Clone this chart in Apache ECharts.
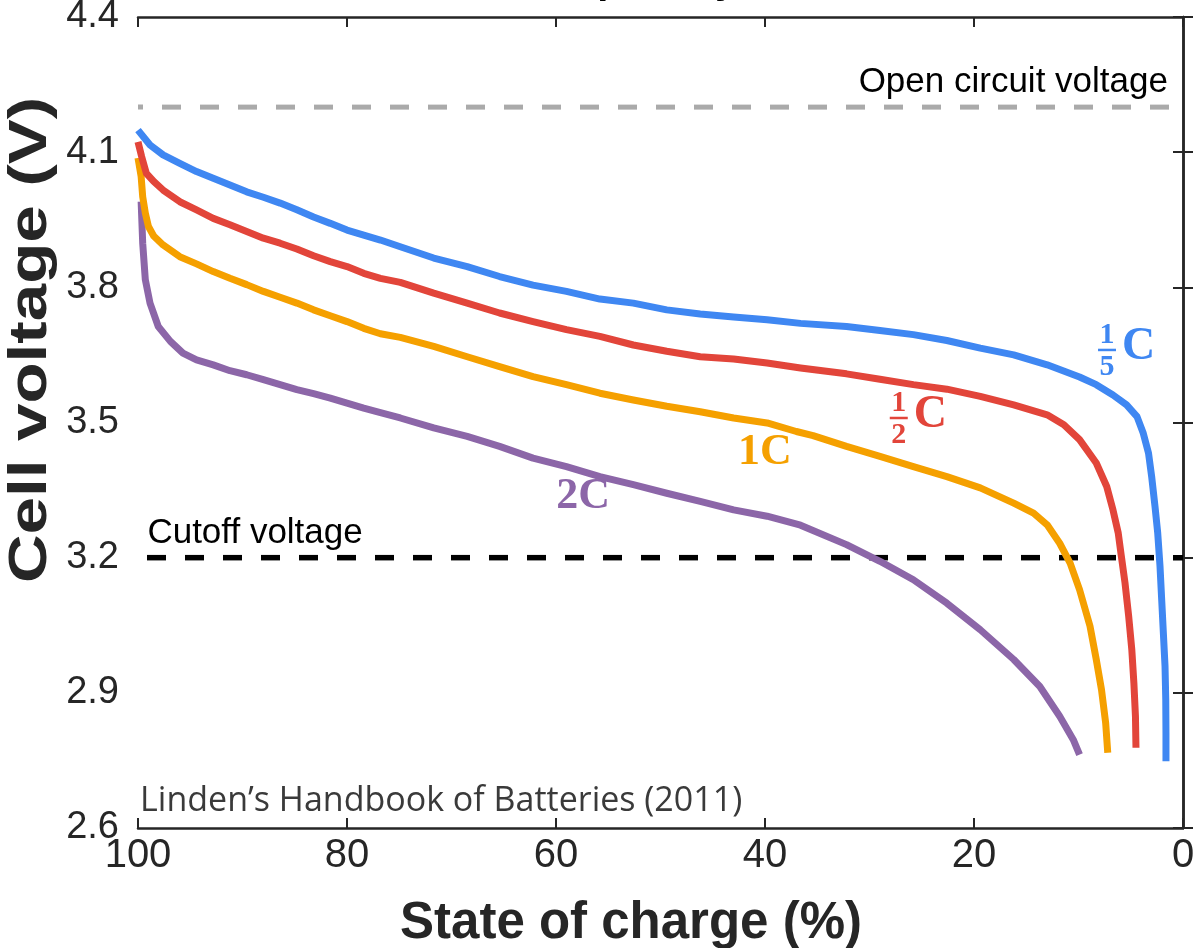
<!DOCTYPE html>
<html>
<head>
<meta charset="utf-8">
<script src="https://cdn.jsdelivr.net/npm/echarts@6/dist/echarts.min.js"></script>
<style>
  html, body { margin: 0; padding: 0; background: #fff; }
  #chart { width: 1193px; height: 948px; }
</style>
</head>
<body>
<div id="chart"></div>
<script>
// Discharge curves: [state of charge %, cell voltage V]
const rateFifthC = [
  [100,4.149],[98.85,4.116],[97.6,4.094],[96.0,4.075],[94.4,4.057],[92.8,4.042],[91.2,4.027],
  [89.6,4.012],[88.0,4.0],[86.4,3.987],[84.8,3.972],[83.2,3.956],[81.6,3.942],[80.0,3.927],
  [78.4,3.916],[76.8,3.905],[74.9,3.890],[71.7,3.865],[68.5,3.846],[65.4,3.824],[62.2,3.805],
  [59.0,3.791],[55.8,3.774],[52.6,3.765],[49.4,3.750],[46.2,3.741],[43.0,3.734],[39.8,3.728],
  [36.6,3.720],[32.2,3.713],[29.0,3.704],[25.8,3.695],[22.6,3.682],[19.4,3.665],[16.2,3.650],
  [13.0,3.628],[9.9,3.601],[8.3,3.584],[6.7,3.561],[5.4,3.539],[4.4,3.513],[3.8,3.476],
  [3.3,3.432],[3.0,3.380],[2.68,3.314],[2.42,3.255],[2.2,3.181],[2.04,3.107],[1.88,3.033],
  [1.72,2.959],[1.65,2.885],[1.63,2.811],[1.63,2.748]
];
const rateHalfC = [
  [100,4.123],[99.65,4.09],[99.2,4.053],[98.5,4.035],[97.6,4.016],[96.0,3.99],[94.4,3.972],
  [92.8,3.953],[91.2,3.939],[89.6,3.924],[88.0,3.909],[86.4,3.898],[84.8,3.885],[83.2,3.870],
  [81.6,3.857],[80.0,3.846],[78.4,3.831],[76.8,3.820],[74.9,3.811],[71.7,3.787],[68.5,3.765],
  [65.4,3.743],[62.2,3.724],[59.0,3.706],[55.8,3.691],[52.6,3.672],[49.4,3.658],[46.2,3.646],
  [43.0,3.641],[39.8,3.632],[36.6,3.621],[32.2,3.608],[29.0,3.596],[25.8,3.584],[22.6,3.574],
  [19.4,3.558],[16.2,3.539],[13.0,3.517],[11.4,3.495],[9.9,3.462],[8.3,3.410],[7.3,3.358],
  [6.7,3.306],[6.2,3.255],[5.9,3.203],[5.55,3.144],[5.2,3.070],[4.9,2.996],[4.7,2.922],
  [4.55,2.848],[4.5,2.778]
];
const rateOneC = [
  [100,4.087],[99.7,4.046],[99.55,4.001],[99.3,3.965],[99.0,3.935],[98.5,3.914],[97.6,3.894],
  [96.0,3.868],[94.4,3.852],[92.8,3.835],[91.2,3.820],[89.6,3.806],[88.0,3.791],[86.4,3.778],
  [84.8,3.765],[83.2,3.750],[81.6,3.737],[80.0,3.724],[78.4,3.709],[76.8,3.697],[74.9,3.689],
  [71.7,3.669],[68.5,3.646],[65.4,3.624],[62.2,3.602],[59.0,3.584],[55.8,3.565],[52.6,3.550],
  [49.4,3.536],[46.2,3.524],[43.0,3.510],[39.8,3.499],[37.0,3.480],[35.4,3.471],[32.2,3.447],
  [29.0,3.425],[25.8,3.402],[22.6,3.380],[19.4,3.355],[16.2,3.321],[14.3,3.299],[13.0,3.273],
  [11.8,3.232],[10.8,3.188],[9.9,3.129],[8.9,3.048],[8.3,2.974],[7.8,2.907],[7.4,2.833],
  [7.2,2.767]
];
const rateTwoC = [
  [99.7,3.99],[99.55,3.898],[99.3,3.817],[98.85,3.765],[98.06,3.713],[96.9,3.680],[95.7,3.654],
  [94.4,3.639],[92.8,3.628],[91.2,3.615],[89.6,3.606],[88.0,3.595],[86.4,3.584],[84.8,3.573],
  [83.2,3.564],[81.6,3.554],[80.0,3.543],[78.4,3.532],[76.8,3.522],[74.9,3.510],[71.7,3.488],
  [68.5,3.469],[65.4,3.447],[62.2,3.421],[59.0,3.402],[55.8,3.380],[52.6,3.362],[49.4,3.343],
  [46.2,3.325],[43.0,3.306],[39.8,3.292],[36.6,3.272],[32.2,3.229],[29.0,3.192],[25.8,3.151],
  [22.6,3.099],[19.4,3.040],[16.2,2.974],[13.7,2.914],[11.8,2.848],[10.5,2.796],[9.9,2.763]
];

// Reference voltages
const openCircuitVoltage = 4.2;
const cutoffVoltage = 3.2;

// Axis ticks
const socTicks = [100, 80, 60, 40, 20, 0];
const voltTicks = [2.6, 2.9, 3.2, 3.5, 3.8, 4.1, 4.4];

// Curve labels: [soc, volt] anchor, numerator, denominator (fraction labels) or plain text
const labelFifth = { at: [7.27, 3.661], num: '1', den: '5' };
const labelHalf = { at: [27.2, 3.510], num: '1', den: '2' };
const labelOne = { at: [40.0, 3.433], text: '1C' };
const labelTwo = { at: [57.4, 3.335], text: '2C' };

const COLORS = { fifth: '#3f87f2', half: '#e2453a', one: '#f5a000', two: '#8c66a8' };
const AXIS_COLOR = '#262626';
const SANS = '"Liberation Sans", Arial, sans-serif';
const SERIF = '"Liberation Serif", "Times New Roman", serif';

const chart = echarts.init(document.getElementById('chart'), null, { renderer: 'canvas' });

function curve(name, data, color) {
  return {
    name, type: 'line', data, xAxisIndex: 0, yAxisIndex: 0,
    showSymbol: false, symbol: 'none', smooth: false,
    lineStyle: { color, width: 7, cap: 'butt', join: 'round' },
    z: 5
  };
}
function refLine(name, v, color, width, offset) {
  return {
    name, type: 'line', data: [[100, v], [0, v]], xAxisIndex: 0, yAxisIndex: 0,
    showSymbol: false, symbol: 'none',
    lineStyle: { color, width, type: [19, 19], dashOffset: offset, cap: 'butt' },
    z: 4
  };
}

const axisLineStyle = { lineStyle: { color: AXIS_COLOR, width: 2.5 } };
const tickStyle = { inside: true, length: 10, lineStyle: { color: AXIS_COLOR, width: 2 } };

chart.setOption({
  animation: false,
  backgroundColor: '#fff',
  grid: { left: 138, right: 10, top: 17, bottom: 120, outerBoundsMode: 'none', containLabel: false },
  xAxis: [
    {
      type: 'value', position: 'bottom', min: 0, max: 100, interval: 20, inverse: true,
      axisLine: axisLineStyle, axisTick: tickStyle, splitLine: { show: false },
      axisLabel: {
        color: AXIS_COLOR, fontFamily: SANS, fontSize: 40, margin: 8,
        customValues: socTicks, showMinLabel: true, showMaxLabel: true
      }
    },
    {
      type: 'value', position: 'top', min: 0, max: 100, interval: 20, inverse: true,
      axisLine: axisLineStyle, axisTick: tickStyle, axisLabel: { show: false },
      splitLine: { show: false }
    }
  ],
  yAxis: [
    {
      type: 'value', position: 'left', min: 2.6, max: 4.4,
      axisLine: { show: true, ...axisLineStyle },
      axisTick: { ...tickStyle, customValues: voltTicks },
      splitLine: { show: false },
      axisLabel: {
        color: AXIS_COLOR, fontFamily: SANS, fontSize: 38, margin: 19,
        customValues: voltTicks, formatter: v => v.toFixed(1)
      }
    },
    {
      type: 'value', position: 'right', min: 2.6, max: 4.4,
      axisLine: { show: true, ...axisLineStyle },
      axisTick: { ...tickStyle, customValues: voltTicks },
      axisLabel: { show: false }, splitLine: { show: false }
    }
  ],
  series: [
    refLine('Open circuit voltage', openCircuitVoltage, '#aaaaaa', 5, 14),
    refLine('Cutoff voltage', cutoffVoltage, '#000000', 5.5, 29),
    curve('2C', rateTwoC, COLORS.two),
    curve('1C', rateOneC, COLORS.one),
    curve('1/2C', rateHalfC, COLORS.half),
    curve('1/5C', rateFifthC, COLORS.fifth)
  ]
});

// Annotations placed from data coordinates
function px(pt) { return chart.convertToPixel({ xAxisIndex: 0, yAxisIndex: 0 }, pt); }

function fractionLabel(lbl, color) {
  const [cx, cy] = px(lbl.at);
  const font = n => ({ fontFamily: SERIF, fontWeight: 'bold', fontSize: n, fill: color });
  return [
    { type: 'text', x: cx, y: cy - 15, style: { text: lbl.num, align: 'center', verticalAlign: 'middle', ...font(30) }, z: 10 },
    { type: 'line', shape: { x1: cx - 9, y1: cy, x2: cx + 9, y2: cy }, style: { stroke: color, lineWidth: 2.5 }, z: 10 },
    { type: 'text', x: cx, y: cy + 17, style: { text: lbl.den, align: 'center', verticalAlign: 'middle', ...font(30) }, z: 10 },
    { type: 'text', x: cx + 15, y: cy - 3, style: { text: 'C', align: 'left', verticalAlign: 'middle', ...font(46) }, z: 10 }
  ];
}
function plainLabel(lbl, color) {
  const [cx, cy] = px(lbl.at);
  return [{ type: 'text', x: cx, y: cy, style: { text: lbl.text, align: 'center', verticalAlign: 'middle',
    fontFamily: SERIF, fontWeight: 'bold', fontSize: 44, fill: color }, z: 10 }];
}

const ocPos = px([1.44, 4.256]);
const cutPos = px([99.1, 3.253]);
const srcPos = px([99.8, 2.659]);
const gridRect = { left: 138, right: 1183, top: 17, bottom: 828 };

chart.setOption({
  graphic: [
    { type: 'text', x: 596, y: -18, style: { text: 'Rate capability', align: 'center', verticalAlign: 'middle',
      fontFamily: SANS, fontWeight: 'bold', fontSize: 40, fill: '#000' }, z: 10 },
    // axis titles
    { type: 'text', x: 631, y: 924, style: { text: 'State of charge (%)', align: 'center', verticalAlign: 'middle',
      fontFamily: SANS, fontWeight: 'bold', fontSize: 51, fill: AXIS_COLOR }, z: 10 },
    { type: 'text', x: 31, y: 340, rotation: Math.PI / 2, scaleX: 1.27,
      style: { text: 'Cell voltage (V)', align: 'center', verticalAlign: 'middle',
      fontFamily: SANS, fontWeight: 'bold', fontSize: 53, fill: AXIS_COLOR }, z: 10 },
    { type: 'text', x: ocPos[0], y: ocPos[1], style: { text: 'Open circuit voltage', align: 'right', verticalAlign: 'middle',
      fontFamily: SANS, fontSize: 35, fill: '#000' }, z: 10 },
    { type: 'text', x: cutPos[0], y: cutPos[1], style: { text: 'Cutoff voltage', align: 'left', verticalAlign: 'middle',
      fontFamily: SANS, fontSize: 35, fill: '#000' }, z: 10 },
    { type: 'text', x: srcPos[0], y: srcPos[1], style: { text: 'Linden’s Handbook of Batteries (2011)', align: 'left', verticalAlign: 'middle',
      fontFamily: '"Open Sans", sans-serif', fontSize: 34, fill: '#3a3a3a' }, z: 10 },
    ...fractionLabel(labelFifth, COLORS.fifth),
    ...fractionLabel(labelHalf, COLORS.half),
    ...plainLabel(labelOne, COLORS.one),
    ...plainLabel(labelTwo, COLORS.two)
  ]
});
</script>
</body>
</html>
